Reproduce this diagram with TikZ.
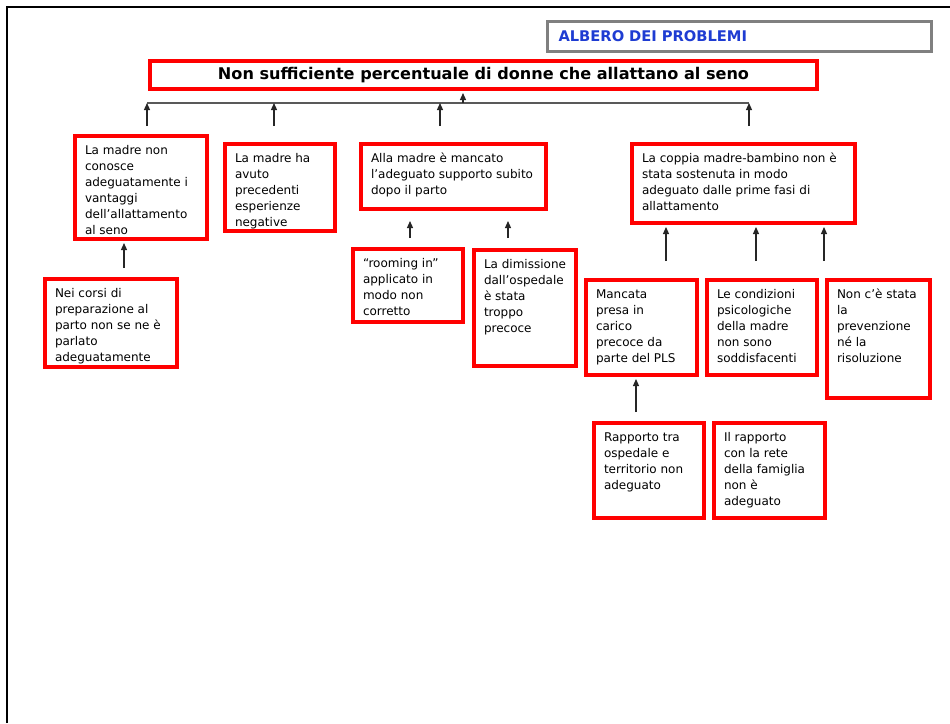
\documentclass[tikz,border=0pt]{standalone}
\usepackage{fontspec}
\setmainfont{DejaVu Sans}
\usepackage{tikz}
\usetikzlibrary{arrows.meta}

\definecolor{rosso}{RGB}{255,0,0}
\definecolor{blu}{RGB}{30,60,210}
% testo allineato in alto a sinistra dentro un riquadro
\newcommand{\riquadro}[3]{\parbox[c][#2][t]{#1}{\raggedright\leftskip=10pt\parindent=0pt\rule{0pt}{18pt}#3}}

\begin{document}
\begin{tikzpicture}[x=1pt, y=-1pt,
    causa/.style={draw=rosso, line width=4pt, inner sep=0pt, anchor=north west, font=\fontsize{12}{16}\selectfont},
    freccia/.style={-{Triangle[length=7pt,width=6pt]}, line width=1.2pt, black!85}]
        \useasboundingbox (0,0) rectangle (950,723);
        % cornice della pagina
        \draw[line width=2pt] (6.5,723) -- (6.5,6.5) -- (950,6.5);
        % intestazione e problema centrale
        \node[draw=gray, line width=3pt, anchor=north west, minimum height=30pt, text width=362pt,
              inner xsep=11pt, inner ysep=0pt, align=left, text=blu, font=\bfseries\fontsize{14.7}{16}\selectfont]
            (albero) at (546,20) {ALBERO DEI PROBLEMI};
        \node[draw=rosso, line width=4pt, anchor=north west, minimum width=667pt, minimum height=28pt,
              inner sep=0pt, font=\bfseries\fontsize{16.1}{18}\selectfont]
            (tit) at (148,59) {Non sufficiente percentuale di donne che allattano al seno};
        % cause di primo livello
        \node[causa] (b1) at (73,134) {\riquadro{132pt}{103pt}{La madre non\\conosce\\adeguatamente i\\vantaggi\\dell’allattamento\\al seno}};
        \node[causa] (b2) at (223,142) {\riquadro{110pt}{87pt}{La madre ha\\avuto\\precedenti\\esperienze\\negative}};
        \node[causa] (b3) at (359,142) {\riquadro{185pt}{65pt}{Alla madre è mancato\\l’adeguato supporto subito\\dopo il parto}};
        \node[causa] (b4) at (630,142) {\riquadro{223pt}{79pt}{La coppia madre-bambino non è\\stata sostenuta in modo\\adeguato dalle prime fasi di\\allattamento}};
        % cause di secondo livello
        \node[causa] (b5) at (43,277) {\riquadro{132pt}{88pt}{Nei corsi di\\preparazione al\\parto non se ne è\\parlato\\adeguatamente}};
        \node[causa] (b6) at (351,247) {\riquadro{110pt}{73pt}{“rooming in”\\applicato in\\modo non\\corretto}};
        \node[causa] (b7) at (472,248) {\riquadro{102pt}{116pt}{La dimissione\\dall’ospedale\\è stata\\troppo\\precoce}};
        \node[causa] (b8) at (584,278) {\riquadro{111pt}{95pt}{Mancata\\presa in\\carico\\precoce da\\parte del PLS}};
        \node[causa] (b9) at (705,278) {\riquadro{110pt}{95pt}{Le condizioni\\psicologiche\\della madre\\non sono\\soddisfacenti}};
        \node[causa] (b10) at (825,278) {\riquadro{103pt}{118pt}{Non c’è stata\\la\\prevenzione\\né la\\risoluzione}};
        % cause di terzo livello
        \node[causa] (b11) at (592,421) {\riquadro{110pt}{95pt}{Rapporto tra\\ospedale e\\territorio non\\adeguato}};
        \node[causa] (b12) at (712,421) {\riquadro{111pt}{95pt}{Il rapporto\\con la rete\\della famiglia\\non è\\adeguato}};
        % barra orizzontale -> problema centrale
        \coordinate (barL) at (147,103);
        \coordinate (barR) at (749,103);
        \draw[line width=1.2pt, black!65] (barL) -- (barR);
        \draw[freccia, shorten >=2pt] (463,0 |- barL) -- (463,0 |- tit.south);
        \foreach \n/\xx/\s in {b1/147/8, b2/274/16, b3/440/16, b4/749/16}
            \draw[freccia, shorten <=\s pt] (\xx,0 |- \n.north) -- (\xx,0 |- barL);
        % frecce tra le cause
        \draw[freccia, shorten <=9pt, shorten >=2pt] (124,0 |- b5.north) -- (124,0 |- b1.south);
        \draw[freccia, shorten <=9pt, shorten >=10pt] (410,0 |- b6.north) -- (410,0 |- b3.south);
        \draw[freccia, shorten <=10pt, shorten >=10pt] (508,0 |- b7.north) -- (508,0 |- b3.south);
        \foreach \n/\xx in {b8/666, b9/756, b10/824}
            \draw[freccia, shorten <=17pt, shorten >=2pt] (\xx,0 |- \n.north) -- (\xx,0 |- b4.south);
        \draw[freccia, shorten <=9pt, shorten >=2pt] (636,0 |- b11.north) -- (636,0 |- b8.south);
    \end{tikzpicture}
\end{document}
